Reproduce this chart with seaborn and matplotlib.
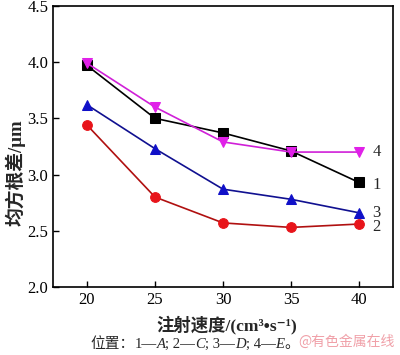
import matplotlib
matplotlib.use("Agg")
import matplotlib.pyplot as plt
import seaborn as sns
import pandas as pd

speed = [20, 25, 30, 35, 40]
s1 = [3.97, 3.50, 3.37, 3.21, 2.93]
s2 = [3.44, 2.80, 2.57, 2.53, 2.56]
s3 = [3.62, 3.23, 2.87, 2.78, 2.66]
s4 = [3.99, 3.60, 3.29, 3.20, 3.20]
series_labels = ["1", "2", "3", "4"]
yticks = [2.0, 2.5, 3.0, 3.5, 4.0, 4.5]
xticks = [20, 25, 30, 35, 40]

sns.set_style("ticks")
FAM = ['Liberation Serif', 'Noto Sans CJK SC', 'DejaVu Sans']
plt.rcParams['font.family'] = FAM

fig = plt.figure(figsize=(4.0, 3.55), dpi=100)
ax = fig.add_axes([0.1325, 0.1915, 0.85, 0.792])

data = {"1": s1, "2": s2, "3": s3, "4": s4}
colors = {"1": "black", "2": "#e8141a", "3": "#1010c8", "4": "#e020e8"}
markers = {"1": "s", "2": "o", "3": "^", "4": "v"}
lcolors = {"1": "black", "2": "#b01010", "3": "#101090", "4": "#d020d8"}

for key in series_labels:
    df = pd.DataFrame({"x": speed, "y": data[key]})
    sns.lineplot(data=df, x="x", y="y", ax=ax, color=lcolors[key], lw=1.2,
                 marker=markers[key], markersize=7, markerfacecolor=colors[key],
                 markeredgecolor=colors[key])

offsets = {"1": -0.02, "2": -0.03, "3": 0.0, "4": 0.0}
for key in series_labels:
    ax.text(speed[-1] + 1.0, data[key][-1] + offsets[key], key, fontsize=12,
            va="center", ha="left")

ax.set_xlim(17.5, 42.5)
ax.set_ylim(2.0, 4.5)
ax.set_xticks(xticks)
ax.set_yticks(yticks)
ax.set_yticklabels([f"{v:.1f}" for v in yticks])
ax.tick_params(direction="in", length=4, width=1, labelsize=12, colors="black")
for sp in ax.spines.values():
    sp.set_visible(True)
    sp.set_linewidth(1.2)
    sp.set_color("black")

ax.set_xlabel("注射速度/(cm³•s⁻¹)", fontsize=12.5, fontweight="bold")
ax.xaxis.set_label_coords(0.51, -0.102)
ax.set_ylabel("均方根差/μm", fontsize=13.5, fontweight="bold")
ax.yaxis.set_label_coords(-0.08, 0.405)

# caption built from pieces (italic letters)
pieces = [("位置：", "normal"), ("1—", "normal"), ("A", "italic"), ("; 2—", "normal"),
          ("C", "italic"), ("; 3—", "normal"), ("D", "italic"), ("; 4—", "normal"),
          ("E", "italic"), ("。", "normal")]
cap_texts = [fig.text(0.225, 0.02, txt, fontsize=10.6, style=st, ha="left", va="baseline")
             for txt, st in pieces]
fig.canvas.draw()
r = fig.canvas.get_renderer()
x = cap_texts[0].get_window_extent(r).x1
for tx in cap_texts[1:]:
    tx.set_position((x / fig.bbox.width, 0.02))
    x = tx.get_window_extent(r).x1

fig.text(0.745, 0.016, "@有色金属在线", fontsize=10, color="#f0a0a8", ha="left", va="bottom",
         family=["Noto Sans CJK SC"])

fig.savefig("out.png", dpi=100)
